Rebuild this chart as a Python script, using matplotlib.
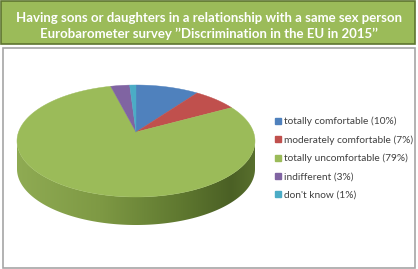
import numpy as np
import matplotlib.pyplot as plt
from matplotlib.patches import Polygon, Rectangle
from matplotlib.lines import Line2D
from matplotlib.colors import LinearSegmentedColormap

plt.rcParams['font.family'] = ['Lato', 'DejaVu Sans']

# data
labels = ['totally comfortable (10%)', 'moderately comfortable (7%)',
          'totally uncomfortable (79%)', 'indifferent (3%)', "don't know (1%)"]
shares = [10, 7, 79, 3, 1]
colors = ['#4F81BD', '#C0504D', '#9BBB59', '#8064A2', '#4BACC6']
title_lines = ['Having sons or daughters in a relationship with a same sex person',
               'Eurobarometer survey \u2019\u2019Discrimination in the EU in 2015\u2019\u2019']

# pie geometry (pixel space)
cx, cy, rx, ry = 136, 141, 119, 56
tilt = np.arctanh(-0.16)
depth = 28

def project(t):
    # circle angle -> screen, with a little perspective
    X, v = np.cos(t), -np.sin(t)
    w = v * np.sinh(tilt) + np.cosh(tilt)
    return cx + rx * X / w, cy + ry * (v * np.cosh(tilt) + np.sinh(tilt)) / w

fig = plt.figure(figsize=(4.18, 2.69), dpi=100)
ax = fig.add_axes([0, 0, 1, 1])
ax.set_axis_off()

# banner and frame
ax.add_patch(Rectangle((0.5, 0.5), 414.5, 43, facecolor='#9BBB59', edgecolor='#5E7530', lw=1.2, zorder=0))
ax.add_patch(Rectangle((2.5, 47.5), 412.5, 220.5, facecolor='white', edgecolor='#A6A6A6', lw=1.2, zorder=0))
ax.text(209.5, 17.5, title_lines[0], ha='center', va='center', color='white', fontsize=9.55, fontweight='bold')
ax.text(208.5, 33.5, title_lines[1], ha='center', va='center', color='white', fontsize=9.55, fontweight='bold')

# side of the pie (front rim, all in the big green slice)
phi = np.linspace(0, np.pi, 200)
ex, ey = cx + rx * np.cos(phi), cy + ry * np.sin(phi)
side = Polygon(np.column_stack([np.r_[ex, ex[::-1]], np.r_[ey, ey[::-1] + depth]]),
               closed=True, facecolor='none', edgecolor='none')
ax.add_patch(side)
side_cmap = LinearSegmentedColormap.from_list('side', [
    (0.0, '#8FAB53'), (0.35, '#7E9944'), (0.7, '#5E772F'), (0.9, '#4B6025'), (1.0, '#586F2D')])
img = ax.imshow(np.linspace(0, 1, 256).reshape(1, -1), cmap=side_cmap, aspect='auto',
                extent=(cx - rx, cx + rx, cy + ry + depth, cy), zorder=1)
img.set_clip_path(side)

# top face
apex = (cx, cy + ry * np.tanh(tilt))
start = np.pi / 2
total = sum(shares)
handles = []
for share, col, lab in zip(shares, colors, labels):
    end = start - 2 * np.pi * share / total
    t = np.linspace(start, end, max(int(share * 4), 8))
    px, py = project(t)
    ax.add_patch(Polygon(np.column_stack([np.r_[apex[0], px], np.r_[apex[1], py]]),
                         closed=True, facecolor=col, edgecolor=col, lw=0.3, zorder=2))
    handles.append(Line2D([], [], linestyle='none', marker='s', markersize=4,
                          markerfacecolor=col, markeredgecolor=col, label=lab))
    start = end

ax.legend(handles=handles, loc='upper left', bbox_to_anchor=(271, 112.5), bbox_transform=ax.transData,
          frameon=False, fontsize=7.3, handlelength=0.55, handletextpad=0.3, labelspacing=0.9,
          borderaxespad=0, labelcolor='#404040')

ax.set_xlim(0, 418)
ax.set_ylim(269, 0)
fig.savefig('out.png', dpi=100, facecolor='white')
